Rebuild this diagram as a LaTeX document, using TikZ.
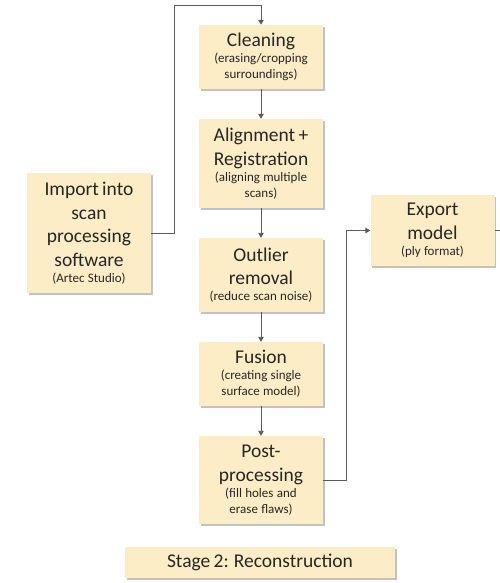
\documentclass[tikz,border=0pt]{standalone}
\usepackage{fontspec}
\setmainfont{Carlito}
\usetikzlibrary{shadows,arrows.meta}
\definecolor{boxfill}{HTML}{FCEDC6}
\definecolor{txt}{HTML}{262626}
\definecolor{lin}{HTML}{5A5A5A}
\newcommand{\ttl}{\fontsize{19.5}{23.5}\selectfont}
\newcommand{\sbt}{\fontsize{13}{16}\selectfont}
\tikzset{
  stepbox/.style={fill=boxfill, draw=none, text=txt, align=center, inner sep=2pt,
    text width=120pt, minimum width=124pt,
    drop shadow={shadow xshift=1.8pt, shadow yshift=-1.8pt, fill=black!40, opacity=0.6}},
  conn/.style={draw=lin, line width=0.9pt},
  arr/.style={conn, -{Triangle[length=5pt,width=5.5pt]}},
}
\begin{document}
\begin{tikzpicture}[x=1pt,y=-1pt]
\useasboundingbox (0,0) rectangle (500,583);
\node[stepbox, minimum height=64pt] (clean) at (261,57) {{\ttl Cleaning\par}{\sbt (erasing/cropping\\surroundings)\par}};
\node[stepbox, minimum height=89pt] (align) at (261,163.5) {{\ttl Alignment +\\Registration\par}{\sbt (aligning multiple\\scans)\par}};
\node[stepbox, minimum height=74pt] (outl) at (261,275) {{\ttl Outlier\\removal\par}{\sbt (reduce scan noise)\par}};
\node[stepbox, minimum height=64pt] (fus) at (261,374) {{\ttl Fusion\par}{\sbt (creating single\\surface model)\par}};
\node[stepbox, minimum height=88pt] (post) at (261,480) {{\ttl Post-\\processing\par}{\sbt (fill holes and\\erase flaws)\par}};
\node[stepbox, minimum height=120pt] (imp) at (89,233) {{\ttl Import into\\scan\\processing\\software\par}{\sbt (Artec Studio)\par}};
\node[stepbox, minimum height=71pt, minimum width=123pt] (exp) at (432.5,230.5) {{\ttl Export\\model\par}{\sbt (ply format)\par}};
\node[stepbox, minimum height=31pt, minimum width=270pt, text width=266pt] (stage) at (260,562.5) {{\ttl Stage 2: Reconstruction\par}};
\coordinate (b1) at (174,5);
\coordinate (b2) at (346,0);
\coordinate (exit) at (500,230.5);
\draw[arr] (imp.east) -| (b1) -| (clean.north);
\draw[arr] (clean) -- (align);
\draw[arr] (align) -- (outl);
\draw[arr] (outl) -- (fus);
\draw[arr] (fus) -- (post);
\draw[arr] (post.east) -- (post.east -| b2) |- (exp.west);
\draw[conn] (exp.east) -- (exit);
\end{tikzpicture}
\end{document}
